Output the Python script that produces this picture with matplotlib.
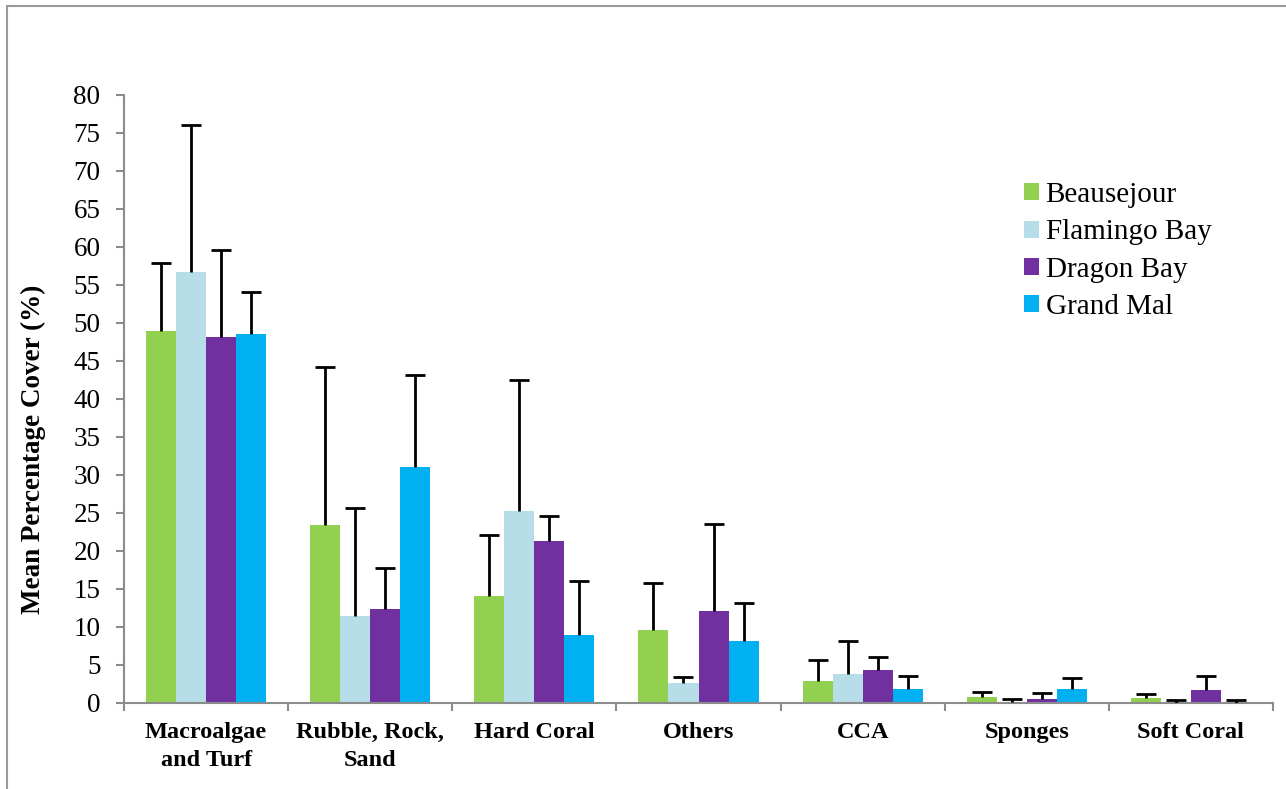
import numpy as np
import matplotlib
matplotlib.use("Agg")
import matplotlib.pyplot as plt
from matplotlib.lines import Line2D

# Benthic cover by category at four sites (mean and upper SD)
categories = ["Macroalgae\nand Turf", "Rubble, Rock,\nSand", "Hard Coral", "Others",
              "CCA", "Sponges", "Soft Coral"]
sites = ["Beausejour", "Flamingo Bay", "Dragon Bay", "Grand Mal"]
colors = ["#92D050", "#B7DDE8", "#7030A0", "#00B0F0"]

beausejour = [48.9, 23.4, 14.1, 9.6, 2.85, 0.75, 0.65]
flamingo = [56.7, 11.5, 25.2, 2.6, 3.8, 0.1, 0.05]
dragon = [48.1, 12.4, 21.3, 12.1, 4.4, 0.5, 1.75]
grand_mal = [48.5, 31.1, 8.9, 8.2, 1.8, 1.85, 0.05]

beausejour_sd = [9.0, 20.8, 8.0, 6.2, 2.85, 0.65, 0.55]
flamingo_sd = [19.3, 14.2, 17.3, 0.8, 4.3, 0.47, 0.35]
dragon_sd = [11.5, 5.3, 3.3, 11.5, 1.6, 0.8, 1.85]
grand_mal_sd = [5.6, 12.1, 7.2, 5.0, 1.8, 1.4, 0.3]

means = [beausejour, flamingo, dragon, grand_mal]
errs = [beausejour_sd, flamingo_sd, dragon_sd, grand_mal_sd]

plt.rcParams["font.family"] = ["Liberation Serif", "DejaVu Serif"]

fig = plt.figure(figsize=(12.86, 7.89), dpi=100)
ax = fig.add_axes([124 / 1286, 86 / 789, (1273 - 124) / 1286, (703 - 95) / 789])

x = np.arange(len(categories))
width = 30 / 164
cap = 20 / 164
for i, (vals, sd, col, name) in enumerate(zip(means, errs, colors, sites)):
    pos = x + (i - 1.5) * width
    vals = np.array(vals)
    top = vals + np.array(sd)
    ax.bar(pos, vals, width, color=col, label=name, zorder=2)
    # upper error bars only, cap at the top end
    ax.vlines(pos, vals, top, color="black", lw=2, zorder=3)
    ax.hlines(top, pos - cap / 2, pos + cap / 2, color="black", lw=2, zorder=3)

ax.set_xlim(-0.5, len(categories) - 0.5)
ax.set_ylim(0, 80)
ax.set_yticks(np.arange(0, 81, 5))
ax.set_xticks(x)
ax.set_xticklabels(categories, fontsize=17.5, fontweight="bold", linespacing=1.4)
ax.set_xticks(np.arange(-0.5, len(categories), 1), minor=True)

ax.tick_params(axis="x", which="major", length=0, pad=14)
ax.tick_params(axis="x", which="minor", length=6, width=1.5, color="#8c8c8c", direction="out")
ax.tick_params(axis="y", length=6, width=1.5, color="#8c8c8c", labelsize=19.5, pad=11)

for side in ["top", "right"]:
    ax.spines[side].set_visible(False)
for side in ["left", "bottom"]:
    ax.spines[side].set_color("#8c8c8c")
    ax.spines[side].set_linewidth(1.5)

ax.set_ylabel("Mean Percentage Cover (%)", fontsize=19.5, fontweight="bold")
ax.yaxis.set_label_coords(-0.068, 0.418)

leg = ax.legend(loc="upper left", bbox_to_anchor=(1024 / 1286, 1 - 182 / 789),
                bbox_transform=fig.transFigure, frameon=False, fontsize=21,
                handlelength=0.52, handleheight=0.52, handletextpad=0.22,
                labelspacing=0.39, borderpad=0, borderaxespad=0)

# thin grey frame round the chart area
fig.add_artist(Line2D([7 / 1286, 7 / 1286], [0, 1 - 6 / 789], color="#9a9a9a", lw=1.5))
fig.add_artist(Line2D([7 / 1286, 1], [1 - 6 / 789, 1 - 6 / 789], color="#9a9a9a", lw=1.5))

fig.savefig("out.png", dpi=100, facecolor="white")
